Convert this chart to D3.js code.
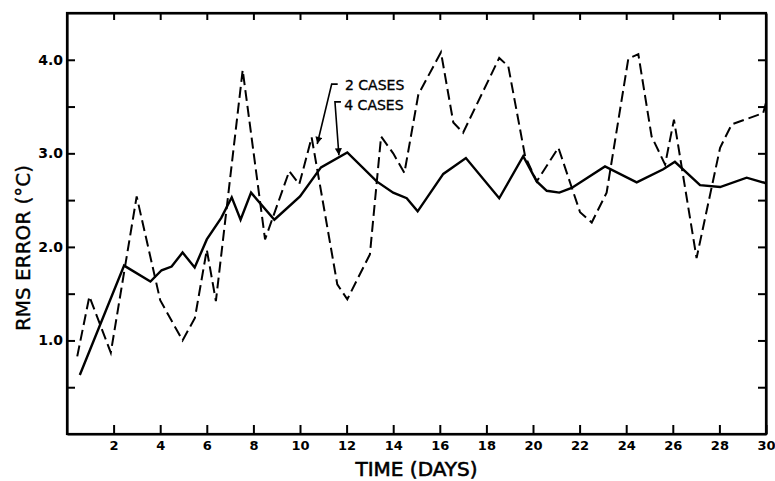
<!DOCTYPE html>
<html>
<head>
<meta charset="utf-8">
<script src="https://cdn.jsdelivr.net/npm/d3@7"></script>
<style>
  body { margin: 0; background: #fff; }
  svg { display: block; }
  .tick text { font-family: "DejaVu Sans", sans-serif; font-weight: bold; fill: #000; }
</style>
</head>
<body>
<svg id="chart" width="775" height="481"></svg>
<script>
// 4 cases (solid line)
var days4 = [0.55, 2.45, 3.58, 4.06, 4.49, 4.96, 5.48, 6.0, 6.62, 7.07, 7.45, 7.9, 8.9,
    10.0, 10.9, 12.03, 13.29, 14.0, 14.58, 15.05, 16.15, 17.12, 18.55, 19.58, 20.16,
    20.59, 21.13, 21.66, 23.09, 24.45, 25.59, 26.09, 27.17, 28.03, 29.17, 30.0];
var rms4 = [0.63, 1.80, 1.63, 1.75, 1.79, 1.94, 1.78, 2.08, 2.31, 2.53, 2.29, 2.58, 2.29,
    2.54, 2.85, 3.01, 2.70, 2.58, 2.52, 2.38, 2.78, 2.95, 2.52, 2.97, 2.70,
    2.60, 2.58, 2.63, 2.86, 2.69, 2.83, 2.91, 2.66, 2.64, 2.74, 2.68];

// 2 cases (dashed line)
var days2 = [0.44, 0.96, 1.88, 2.99, 4.0, 4.96, 5.49, 6.0, 6.39, 7.54, 8.5, 9.54, 9.97,
    10.5, 11.6, 12.03, 13.0, 13.48, 14.0, 14.48, 15.08, 16.05, 16.58, 17.0, 18.55,
    18.94, 19.66, 20.16, 21.09, 22.02, 22.52, 23.16, 24.09, 24.52, 25.09, 25.67,
    26.05, 27.02, 28.03, 28.53, 29.88, 30.0];
var rms2 = [0.83, 1.47, 0.87, 2.54, 1.43, 1.00, 1.24, 1.97, 1.42, 3.89, 2.08, 2.81, 2.67,
    3.17, 1.60, 1.44, 1.92, 3.18, 3.00, 2.79, 3.63, 4.08, 3.33, 3.22, 4.02,
    3.93, 2.97, 2.70, 3.06, 2.37, 2.26, 2.58, 4.01, 4.06, 3.18, 2.88,
    3.36, 1.88, 3.06, 3.31, 3.43, 3.54];

var xTicks = [2, 4, 6, 8, 10, 12, 14, 16, 18, 20, 22, 24, 26, 28, 30];
var yTicks = [0.5, 1.0, 1.5, 2.0, 2.5, 3.0, 3.5, 4.0];
var yLabeled = [1.0, 2.0, 3.0, 4.0];

// annotation: label, text anchor point, leader corner, arrow tip (data units)
var annoLabels = ["2 CASES", "4 CASES"];
var annoText = [[11.93, 3.68], [11.9, 3.46]];
var annoCorner = [[11.36, 3.74], [11.5, 3.55]];
var annoTip = [[10.74, 3.10], [11.67, 2.98]];

var svg = d3.select("#chart"),
    margin = { top: 13, right: 9, bottom: 47, left: 67 },
    width = +svg.attr("width") - margin.left - margin.right,
    height = +svg.attr("height") - margin.top - margin.bottom;

var x = d3.scaleLinear().domain([0, 30]).range([0, width]),
    y = d3.scaleLinear().domain([0, 4.5]).range([height, 0]);

var g = svg.append("g")
    .attr("transform", "translate(" + margin.left + "," + margin.top + ")");

// axes, ticks pointing inward
g.append("g")
    .attr("class", "axis")
    .attr("transform", "translate(0," + height + ")")
    .call(d3.axisBottom(x).tickValues(xTicks).tickSizeInner(-9).tickSizeOuter(0).tickPadding(7))
    .selectAll("text").style("font-size", "13px");

g.append("g")
    .attr("class", "axis")
    .call(d3.axisTop(x).tickValues(xTicks.slice(0, -1)).tickSizeInner(-7).tickSizeOuter(0).tickFormat(""));

g.append("g")
    .attr("class", "axis")
    .call(d3.axisLeft(y).tickValues(yTicks).tickSizeInner(-8).tickSizeOuter(0).tickPadding(4)
        .tickFormat(function(d) { return yLabeled.indexOf(d) >= 0 ? d.toFixed(1) : ""; }))
    .selectAll("text").style("font-size", "14px");

g.append("g")
    .attr("class", "axis")
    .attr("transform", "translate(" + width + ",0)")
    .call(d3.axisRight(y).tickValues(yTicks).tickSizeInner(-8).tickSizeOuter(0).tickFormat(""));

g.selectAll(".axis path.domain").attr("stroke", "#000").attr("stroke-width", 2.2);
g.selectAll(".axis .tick line").attr("stroke", "#000").attr("stroke-width", 2);

// frame corners
g.append("rect")
    .attr("width", width)
    .attr("height", height)
    .attr("fill", "none")
    .attr("stroke", "#000")
    .attr("stroke-width", 2.2);

var line = d3.line()
    .x(function(d) { return x(d[0]); })
    .y(function(d) { return y(d[1]); });

g.append("path")
    .datum(d3.zip(days4, rms4))
    .attr("fill", "none")
    .attr("stroke", "#000")
    .attr("stroke-width", 2.4)
    .attr("stroke-linejoin", "miter")
    .attr("d", line);

g.append("path")
    .datum(d3.zip(days2, rms2))
    .attr("fill", "none")
    .attr("stroke", "#000")
    .attr("stroke-width", 2)
    .attr("stroke-dasharray", "11,5")
    .attr("d", line);

// arrowhead
svg.append("defs").append("marker")
    .attr("id", "arrow")
    .attr("markerUnits", "userSpaceOnUse")
    .attr("viewBox", "0 0 10 10")
    .attr("refX", 10)
    .attr("refY", 5)
    .attr("markerWidth", 9)
    .attr("markerHeight", 7)
    .attr("orient", "auto")
    .append("path")
    .attr("d", "M0,0L10,5L0,10z")
    .attr("fill", "#000");

for (var i = 0; i < annoLabels.length; i++) {
    g.append("path")
        .attr("fill", "none")
        .attr("stroke", "#000")
        .attr("stroke-width", 1.6)
        .attr("marker-end", "url(#arrow)")
        .attr("d", "M" + (x(annoCorner[i][0]) + 6) + "," + y(annoCorner[i][1]) +
            "L" + x(annoCorner[i][0]) + "," + y(annoCorner[i][1]) +
            "L" + x(annoTip[i][0]) + "," + y(annoTip[i][1]));

    g.append("text")
        .attr("x", x(annoText[i][0]))
        .attr("y", y(annoText[i][1]))
        .attr("font-family", "DejaVu Sans, sans-serif")
        .attr("font-size", "14px")
        .attr("fill", "#000")
        .attr("stroke", "#000")
        .attr("stroke-width", 0.35)
        .text(annoLabels[i]);
}

// axis titles
svg.append("text")
    .attr("x", margin.left + width / 2)
    .attr("y", 476)
    .attr("text-anchor", "middle")
    .attr("font-family", "DejaVu Sans, sans-serif")
    .attr("font-size", "20px")
    .attr("fill", "#000")
    .attr("stroke", "#000")
    .attr("stroke-width", 0.6)
    .text("TIME (DAYS)");

svg.append("text")
    .attr("transform", "translate(30,248) rotate(-90)")
    .attr("text-anchor", "middle")
    .attr("font-family", "DejaVu Sans, sans-serif")
    .attr("font-size", "20px")
    .attr("fill", "#000")
    .attr("stroke", "#000")
    .attr("stroke-width", 0.4)
    .text("RMS ERROR (°C)");
</script>
</body>
</html>
